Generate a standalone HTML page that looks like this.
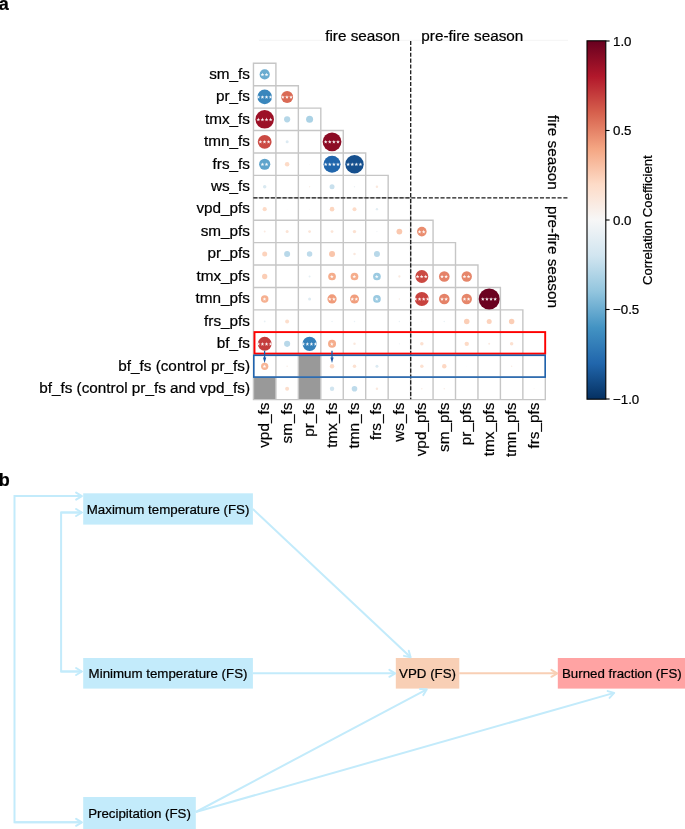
<!DOCTYPE html><html><head><meta charset="utf-8"><style>html,body{margin:0;padding:0;background:#fff;width:685px;height:829px;overflow:hidden}svg{display:block;will-change:transform}text{font-family:"Liberation Sans",sans-serif;stroke:#000;stroke-width:0.22px}</style></head><body>
<svg width="685" height="829" viewBox="0 0 685 829">
<rect width="685" height="829" fill="#fff"/>
<text x="-1.2" y="9.6" font-size="18" font-weight="bold" fill="#000">a</text>
<text x="-1.2" y="486.3" font-size="18" font-weight="bold" fill="#000">b</text>
<line x1="259" y1="40.3" x2="568" y2="40.3" stroke="#f4f4f4" stroke-width="1"/>
<text x="400" y="40.9" font-size="15.3" text-anchor="end">fire season</text>
<text x="421.3" y="40.9" font-size="15.3">pre-fire season</text>
<rect x="298.36" y="354.75" width="22.45" height="22.42" fill="#999999"/>
<rect x="253.46" y="377.17" width="22.45" height="22.42" fill="#999999"/>
<rect x="298.36" y="377.17" width="22.45" height="22.42" fill="#999999"/>
<path d="M253.46 63.29h22.45v22.42h-22.45zM253.46 85.71h22.45v22.42h-22.45zM275.91 85.71h22.45v22.42h-22.45zM253.46 108.13h22.45v22.42h-22.45zM275.91 108.13h22.45v22.42h-22.45zM298.36 108.13h22.45v22.42h-22.45zM253.46 130.55h22.45v22.42h-22.45zM275.91 130.55h22.45v22.42h-22.45zM298.36 130.55h22.45v22.42h-22.45zM320.81 130.55h22.45v22.42h-22.45zM253.46 152.97h22.45v22.42h-22.45zM275.91 152.97h22.45v22.42h-22.45zM298.36 152.97h22.45v22.42h-22.45zM320.81 152.97h22.45v22.42h-22.45zM343.26 152.97h22.45v22.42h-22.45zM253.46 175.39h22.45v22.42h-22.45zM275.91 175.39h22.45v22.42h-22.45zM298.36 175.39h22.45v22.42h-22.45zM320.81 175.39h22.45v22.42h-22.45zM343.26 175.39h22.45v22.42h-22.45zM365.71 175.39h22.45v22.42h-22.45zM253.46 197.81h22.45v22.42h-22.45zM275.91 197.81h22.45v22.42h-22.45zM298.36 197.81h22.45v22.42h-22.45zM320.81 197.81h22.45v22.42h-22.45zM343.26 197.81h22.45v22.42h-22.45zM365.71 197.81h22.45v22.42h-22.45zM388.16 197.81h22.45v22.42h-22.45zM253.46 220.23h22.45v22.42h-22.45zM275.91 220.23h22.45v22.42h-22.45zM298.36 220.23h22.45v22.42h-22.45zM320.81 220.23h22.45v22.42h-22.45zM343.26 220.23h22.45v22.42h-22.45zM365.71 220.23h22.45v22.42h-22.45zM388.16 220.23h22.45v22.42h-22.45zM410.61 220.23h22.45v22.42h-22.45zM253.46 242.65h22.45v22.42h-22.45zM275.91 242.65h22.45v22.42h-22.45zM298.36 242.65h22.45v22.42h-22.45zM320.81 242.65h22.45v22.42h-22.45zM343.26 242.65h22.45v22.42h-22.45zM365.71 242.65h22.45v22.42h-22.45zM388.16 242.65h22.45v22.42h-22.45zM410.61 242.65h22.45v22.42h-22.45zM433.06 242.65h22.45v22.42h-22.45zM253.46 265.07h22.45v22.42h-22.45zM275.91 265.07h22.45v22.42h-22.45zM298.36 265.07h22.45v22.42h-22.45zM320.81 265.07h22.45v22.42h-22.45zM343.26 265.07h22.45v22.42h-22.45zM365.71 265.07h22.45v22.42h-22.45zM388.16 265.07h22.45v22.42h-22.45zM410.61 265.07h22.45v22.42h-22.45zM433.06 265.07h22.45v22.42h-22.45zM455.51 265.07h22.45v22.42h-22.45zM253.46 287.49h22.45v22.42h-22.45zM275.91 287.49h22.45v22.42h-22.45zM298.36 287.49h22.45v22.42h-22.45zM320.81 287.49h22.45v22.42h-22.45zM343.26 287.49h22.45v22.42h-22.45zM365.71 287.49h22.45v22.42h-22.45zM388.16 287.49h22.45v22.42h-22.45zM410.61 287.49h22.45v22.42h-22.45zM433.06 287.49h22.45v22.42h-22.45zM455.51 287.49h22.45v22.42h-22.45zM477.96 287.49h22.45v22.42h-22.45zM253.46 309.91h22.45v22.42h-22.45zM275.91 309.91h22.45v22.42h-22.45zM298.36 309.91h22.45v22.42h-22.45zM320.81 309.91h22.45v22.42h-22.45zM343.26 309.91h22.45v22.42h-22.45zM365.71 309.91h22.45v22.42h-22.45zM388.16 309.91h22.45v22.42h-22.45zM410.61 309.91h22.45v22.42h-22.45zM433.06 309.91h22.45v22.42h-22.45zM455.51 309.91h22.45v22.42h-22.45zM477.96 309.91h22.45v22.42h-22.45zM500.41 309.91h22.45v22.42h-22.45zM253.46 332.33h22.45v22.42h-22.45zM275.91 332.33h22.45v22.42h-22.45zM298.36 332.33h22.45v22.42h-22.45zM320.81 332.33h22.45v22.42h-22.45zM343.26 332.33h22.45v22.42h-22.45zM365.71 332.33h22.45v22.42h-22.45zM388.16 332.33h22.45v22.42h-22.45zM410.61 332.33h22.45v22.42h-22.45zM433.06 332.33h22.45v22.42h-22.45zM455.51 332.33h22.45v22.42h-22.45zM477.96 332.33h22.45v22.42h-22.45zM500.41 332.33h22.45v22.42h-22.45zM522.86 332.33h22.45v22.42h-22.45zM253.46 354.75h22.45v22.42h-22.45zM275.91 354.75h22.45v22.42h-22.45zM298.36 354.75h22.45v22.42h-22.45zM320.81 354.75h22.45v22.42h-22.45zM343.26 354.75h22.45v22.42h-22.45zM365.71 354.75h22.45v22.42h-22.45zM388.16 354.75h22.45v22.42h-22.45zM410.61 354.75h22.45v22.42h-22.45zM433.06 354.75h22.45v22.42h-22.45zM455.51 354.75h22.45v22.42h-22.45zM477.96 354.75h22.45v22.42h-22.45zM500.41 354.75h22.45v22.42h-22.45zM522.86 354.75h22.45v22.42h-22.45zM253.46 377.17h22.45v22.42h-22.45zM275.91 377.17h22.45v22.42h-22.45zM298.36 377.17h22.45v22.42h-22.45zM320.81 377.17h22.45v22.42h-22.45zM343.26 377.17h22.45v22.42h-22.45zM365.71 377.17h22.45v22.42h-22.45zM388.16 377.17h22.45v22.42h-22.45zM410.61 377.17h22.45v22.42h-22.45zM433.06 377.17h22.45v22.42h-22.45zM455.51 377.17h22.45v22.42h-22.45zM477.96 377.17h22.45v22.42h-22.45zM500.41 377.17h22.45v22.42h-22.45zM522.86 377.17h22.45v22.42h-22.45z" fill="none" stroke="#c6c6c6" stroke-width="1.4"/>
<circle cx="264.69" cy="74.47" r="5.1" fill="#6aacd0"/>
<circle cx="264.69" cy="96.91" r="7.3" fill="#3986bc"/>
<circle cx="287.13" cy="96.91" r="6" fill="#da6a55"/>
<circle cx="264.69" cy="119.37" r="9.25" fill="#9c1127"/>
<circle cx="287.13" cy="119.37" r="3.1" fill="#b5d7e8"/>
<circle cx="309.59" cy="119.37" r="3.5" fill="#abd2e5"/>
<circle cx="264.69" cy="141.81" r="6.9" fill="#cb4a43"/>
<circle cx="287.13" cy="141.81" r="1.5" fill="#dceaf2"/>
<circle cx="332.04" cy="141.81" r="9.4" fill="#8c0c25"/>
<circle cx="264.69" cy="164.26" r="5.6" fill="#5fa4cc"/>
<circle cx="287.13" cy="164.26" r="2.25" fill="#fddbc7"/>
<circle cx="309.59" cy="164.26" r="0.4" fill="#f8f4f2"/>
<circle cx="332.04" cy="164.26" r="8.5" fill="#2166ac"/>
<circle cx="354.49" cy="164.26" r="9.2" fill="#16508e"/>
<circle cx="264.69" cy="186.72" r="1.75" fill="#d9e9f1"/>
<circle cx="309.59" cy="186.72" r="0.7" fill="#f9efe9"/>
<circle cx="332.04" cy="186.72" r="2.5" fill="#c8e0ed"/>
<circle cx="354.49" cy="186.72" r="0.7" fill="#ecf2f5"/>
<circle cx="376.94" cy="186.72" r="1.25" fill="#fae8dd"/>
<circle cx="264.69" cy="209.16" r="2.1" fill="#fddbc7"/>
<circle cx="287.13" cy="209.16" r="0.4" fill="#f8f3f0"/>
<circle cx="309.59" cy="209.16" r="0.4" fill="#f8f3f0"/>
<circle cx="332.04" cy="209.16" r="2.3" fill="#fcd6c0"/>
<circle cx="354.49" cy="209.16" r="2" fill="#fddcc9"/>
<circle cx="376.94" cy="209.16" r="1.2" fill="#e2edf3"/>
<circle cx="264.69" cy="231.62" r="1" fill="#faeae1"/>
<circle cx="287.13" cy="231.62" r="1.5" fill="#fbe3d5"/>
<circle cx="309.59" cy="231.62" r="1.4" fill="#fbe5d8"/>
<circle cx="332.04" cy="231.62" r="1.4" fill="#fbe5d8"/>
<circle cx="354.49" cy="231.62" r="1.7" fill="#fce1d1"/>
<circle cx="376.94" cy="231.62" r="0.6" fill="#eef2f5"/>
<circle cx="399.38" cy="231.62" r="2.9" fill="#fac8af"/>
<circle cx="421.84" cy="231.62" r="4.8" fill="#ea8d6f"/>
<circle cx="264.69" cy="254.06" r="2.5" fill="#fcd3bd"/>
<circle cx="287.13" cy="254.06" r="3" fill="#b8d8e9"/>
<circle cx="309.59" cy="254.06" r="2.75" fill="#bedbeb"/>
<circle cx="332.04" cy="254.06" r="3" fill="#f9c5ab"/>
<circle cx="354.49" cy="254.06" r="1.25" fill="#fae8dd"/>
<circle cx="376.94" cy="254.06" r="3" fill="#b8d8e9"/>
<circle cx="264.69" cy="276.51" r="2.65" fill="#fbceb6"/>
<circle cx="309.59" cy="276.51" r="1" fill="#e6eff4"/>
<circle cx="332.04" cy="276.51" r="3.85" fill="#f5ad8c"/>
<circle cx="354.49" cy="276.51" r="3.85" fill="#f5ad8c"/>
<circle cx="376.94" cy="276.51" r="3.85" fill="#9bcae1"/>
<circle cx="399.38" cy="276.51" r="1.15" fill="#fae9df"/>
<circle cx="421.84" cy="276.51" r="6.45" fill="#cb4a43"/>
<circle cx="444.28" cy="276.51" r="5.3" fill="#e58268"/>
<circle cx="466.74" cy="276.51" r="5.2" fill="#e6866a"/>
<circle cx="264.69" cy="298.96" r="3.75" fill="#f6b090"/>
<circle cx="309.59" cy="298.96" r="1.5" fill="#deebf2"/>
<circle cx="332.04" cy="298.96" r="4.6" fill="#f09b7a"/>
<circle cx="354.49" cy="298.96" r="4.5" fill="#f19e7d"/>
<circle cx="376.94" cy="298.96" r="3.85" fill="#9bcae1"/>
<circle cx="399.38" cy="298.96" r="0.75" fill="#f9ede6"/>
<circle cx="421.84" cy="298.96" r="7" fill="#c8433f"/>
<circle cx="444.28" cy="298.96" r="5.3" fill="#e58268"/>
<circle cx="466.74" cy="298.96" r="5.2" fill="#e6866a"/>
<circle cx="489.19" cy="298.96" r="10.5" fill="#6b0120"/>
<circle cx="264.69" cy="321.42" r="0.9" fill="#e8f0f4"/>
<circle cx="287.13" cy="321.42" r="2" fill="#fcdecc"/>
<circle cx="309.59" cy="321.42" r="0.4" fill="#f8f3f0"/>
<circle cx="332.04" cy="321.42" r="0.75" fill="#eaf1f5"/>
<circle cx="354.49" cy="321.42" r="0.75" fill="#eaf1f5"/>
<circle cx="399.38" cy="321.42" r="0.75" fill="#eaf1f5"/>
<circle cx="421.84" cy="321.42" r="0.4" fill="#f8f3f0"/>
<circle cx="444.28" cy="321.42" r="0.75" fill="#eaf1f5"/>
<circle cx="466.74" cy="321.42" r="2.75" fill="#fbceb6"/>
<circle cx="489.19" cy="321.42" r="2.5" fill="#fcd3bd"/>
<circle cx="511.63" cy="321.42" r="2.75" fill="#fbceb6"/>
<circle cx="264.69" cy="343.87" r="7" fill="#c43c3c"/>
<circle cx="287.13" cy="343.87" r="3.05" fill="#b8d8e9"/>
<circle cx="309.59" cy="343.87" r="7.1" fill="#3581ba"/>
<circle cx="332.04" cy="343.87" r="4" fill="#f5ad8c"/>
<circle cx="354.49" cy="343.87" r="1.25" fill="#fae8dd"/>
<circle cx="376.94" cy="343.87" r="0.4" fill="#f8f3f0"/>
<circle cx="399.38" cy="343.87" r="0.6" fill="#eef2f5"/>
<circle cx="421.84" cy="343.87" r="1.75" fill="#fce1d1"/>
<circle cx="466.74" cy="343.87" r="2.2" fill="#fddbc7"/>
<circle cx="489.19" cy="343.87" r="1" fill="#faeae1"/>
<circle cx="511.63" cy="343.87" r="1.75" fill="#fce1d1"/>
<circle cx="264.69" cy="366.31" r="3.65" fill="#f7b597"/>
<circle cx="287.13" cy="366.31" r="0.75" fill="#f9ede6"/>
<circle cx="332.04" cy="366.31" r="2.2" fill="#fddbc7"/>
<circle cx="354.49" cy="366.31" r="1.75" fill="#fce1d1"/>
<circle cx="376.94" cy="366.31" r="1.5" fill="#dceaf2"/>
<circle cx="421.84" cy="366.31" r="1.75" fill="#fce1d1"/>
<circle cx="444.28" cy="366.31" r="2.25" fill="#fdd8c4"/>
<circle cx="466.74" cy="366.31" r="0.3" fill="#f8f4f2"/>
<circle cx="511.63" cy="366.31" r="0.75" fill="#f9ede6"/>
<circle cx="287.13" cy="388.76" r="2" fill="#fcdecc"/>
<circle cx="332.04" cy="388.76" r="2.2" fill="#d1e5f0"/>
<circle cx="354.49" cy="388.76" r="2.8" fill="#bedbeb"/>
<circle cx="376.94" cy="388.76" r="1.25" fill="#fae8dd"/>
<circle cx="421.84" cy="388.76" r="0.75" fill="#f9ede6"/>
<circle cx="444.28" cy="388.76" r="0.75" fill="#f9ede6"/>
<circle cx="534.09" cy="388.76" r="0.5" fill="#f8f1ed"/>
<g fill="#fff" fill-opacity="0.92"><polygon points="262.44,72.72 262.93,73.98 264.29,74.06 263.24,74.93 263.58,76.24 262.44,75.52 261.29,76.24 261.63,74.93 260.58,74.06 261.94,73.98"/><polygon points="266.54,72.72 267.03,73.98 268.39,74.06 267.34,74.93 267.68,76.24 266.54,75.52 265.39,76.24 265.73,74.93 264.68,74.06 266.04,73.98"/><polygon points="258.34,95.16 258.83,96.43 260.19,96.51 259.14,97.38 259.48,98.69 258.34,97.96 257.19,98.69 257.53,97.38 256.48,96.51 257.84,96.43"/><polygon points="262.44,95.16 262.93,96.43 264.29,96.51 263.24,97.38 263.58,98.69 262.44,97.96 261.29,98.69 261.63,97.38 260.58,96.51 261.94,96.43"/><polygon points="266.54,95.16 267.03,96.43 268.39,96.51 267.34,97.38 267.68,98.69 266.54,97.96 265.39,98.69 265.73,97.38 264.68,96.51 266.04,96.43"/><polygon points="270.63,95.16 271.13,96.43 272.49,96.51 271.44,97.38 271.78,98.69 270.63,97.96 269.49,98.69 269.83,97.38 268.78,96.51 270.14,96.43"/><polygon points="282.83,95.16 283.33,96.43 284.69,96.51 283.64,97.38 283.98,98.69 282.83,97.96 281.69,98.69 282.03,97.38 280.98,96.51 282.34,96.43"/><polygon points="286.94,95.16 287.43,96.43 288.79,96.51 287.74,97.38 288.08,98.69 286.94,97.96 285.79,98.69 286.13,97.38 285.08,96.51 286.44,96.43"/><polygon points="291.04,95.16 291.53,96.43 292.89,96.51 291.84,97.38 292.18,98.69 291.04,97.96 289.89,98.69 290.23,97.38 289.18,96.51 290.54,96.43"/><polygon points="258.34,117.62 258.83,118.88 260.19,118.96 259.14,119.83 259.48,121.14 258.34,120.42 257.19,121.14 257.53,119.83 256.48,118.96 257.84,118.88"/><polygon points="262.44,117.62 262.93,118.88 264.29,118.96 263.24,119.83 263.58,121.14 262.44,120.42 261.29,121.14 261.63,119.83 260.58,118.96 261.94,118.88"/><polygon points="266.54,117.62 267.03,118.88 268.39,118.96 267.34,119.83 267.68,121.14 266.54,120.42 265.39,121.14 265.73,119.83 264.68,118.96 266.04,118.88"/><polygon points="270.63,117.62 271.13,118.88 272.49,118.96 271.44,119.83 271.78,121.14 270.63,120.42 269.49,121.14 269.83,119.83 268.78,118.96 270.14,118.88"/><polygon points="260.38,140.06 260.88,141.33 262.24,141.41 261.19,142.28 261.53,143.59 260.38,142.86 259.24,143.59 259.58,142.28 258.53,141.41 259.89,141.33"/><polygon points="264.49,140.06 264.98,141.33 266.34,141.41 265.29,142.28 265.63,143.59 264.49,142.86 263.34,143.59 263.68,142.28 262.63,141.41 263.99,141.33"/><polygon points="268.59,140.06 269.08,141.33 270.44,141.41 269.39,142.28 269.73,143.59 268.59,142.86 267.44,143.59 267.78,142.28 266.73,141.41 268.09,141.33"/><polygon points="325.69,140.06 326.18,141.33 327.54,141.41 326.49,142.28 326.83,143.59 325.69,142.86 324.54,143.59 324.88,142.28 323.83,141.41 325.19,141.33"/><polygon points="329.79,140.06 330.28,141.33 331.64,141.41 330.59,142.28 330.93,143.59 329.79,142.86 328.64,143.59 328.98,142.28 327.93,141.41 329.29,141.33"/><polygon points="333.89,140.06 334.38,141.33 335.74,141.41 334.69,142.28 335.03,143.59 333.89,142.86 332.74,143.59 333.08,142.28 332.03,141.41 333.39,141.33"/><polygon points="337.99,140.06 338.48,141.33 339.84,141.41 338.79,142.28 339.13,143.59 337.99,142.86 336.84,143.59 337.18,142.28 336.13,141.41 337.49,141.33"/><polygon points="262.44,162.51 262.93,163.78 264.29,163.86 263.24,164.73 263.58,166.04 262.44,165.31 261.29,166.04 261.63,164.73 260.58,163.86 261.94,163.78"/><polygon points="266.54,162.51 267.03,163.78 268.39,163.86 267.34,164.73 267.68,166.04 266.54,165.31 265.39,166.04 265.73,164.73 264.68,163.86 266.04,163.78"/><polygon points="325.69,162.51 326.18,163.78 327.54,163.86 326.49,164.73 326.83,166.04 325.69,165.31 324.54,166.04 324.88,164.73 323.83,163.86 325.19,163.78"/><polygon points="329.79,162.51 330.28,163.78 331.64,163.86 330.59,164.73 330.93,166.04 329.79,165.31 328.64,166.04 328.98,164.73 327.93,163.86 329.29,163.78"/><polygon points="333.89,162.51 334.38,163.78 335.74,163.86 334.69,164.73 335.03,166.04 333.89,165.31 332.74,166.04 333.08,164.73 332.03,163.86 333.39,163.78"/><polygon points="337.99,162.51 338.48,163.78 339.84,163.86 338.79,164.73 339.13,166.04 337.99,165.31 336.84,166.04 337.18,164.73 336.13,163.86 337.49,163.78"/><polygon points="348.14,162.51 348.63,163.78 349.99,163.86 348.94,164.73 349.28,166.04 348.14,165.31 346.99,166.04 347.33,164.73 346.28,163.86 347.64,163.78"/><polygon points="352.24,162.51 352.73,163.78 354.09,163.86 353.04,164.73 353.38,166.04 352.24,165.31 351.09,166.04 351.43,164.73 350.38,163.86 351.74,163.78"/><polygon points="356.34,162.51 356.83,163.78 358.19,163.86 357.14,164.73 357.48,166.04 356.34,165.31 355.19,166.04 355.53,164.73 354.48,163.86 355.84,163.78"/><polygon points="360.44,162.51 360.93,163.78 362.29,163.86 361.24,164.73 361.58,166.04 360.44,165.31 359.29,166.04 359.63,164.73 358.58,163.86 359.94,163.78"/><polygon points="419.59,229.87 420.08,231.13 421.44,231.21 420.39,232.08 420.73,233.39 419.59,232.66 418.44,233.39 418.78,232.08 417.73,231.21 419.09,231.13"/><polygon points="423.69,229.87 424.18,231.13 425.54,231.21 424.49,232.08 424.83,233.39 423.69,232.66 422.54,233.39 422.88,232.08 421.83,231.21 423.19,231.13"/><polygon points="331.84,274.76 332.33,276.03 333.69,276.11 332.64,276.98 332.98,278.29 331.84,277.56 330.69,278.29 331.03,276.98 329.98,276.11 331.34,276.03"/><polygon points="354.29,274.76 354.78,276.03 356.14,276.11 355.09,276.98 355.43,278.29 354.29,277.56 353.14,278.29 353.48,276.98 352.43,276.11 353.79,276.03"/><polygon points="376.74,274.76 377.23,276.03 378.59,276.11 377.54,276.98 377.88,278.29 376.74,277.56 375.59,278.29 375.93,276.98 374.88,276.11 376.24,276.03"/><polygon points="417.54,274.76 418.03,276.03 419.39,276.11 418.34,276.98 418.68,278.29 417.54,277.56 416.39,278.29 416.73,276.98 415.68,276.11 417.04,276.03"/><polygon points="421.64,274.76 422.13,276.03 423.49,276.11 422.44,276.98 422.78,278.29 421.64,277.56 420.49,278.29 420.83,276.98 419.78,276.11 421.14,276.03"/><polygon points="425.74,274.76 426.23,276.03 427.59,276.11 426.54,276.98 426.88,278.29 425.74,277.56 424.59,278.29 424.93,276.98 423.88,276.11 425.24,276.03"/><polygon points="442.03,274.76 442.53,276.03 443.89,276.11 442.84,276.98 443.18,278.29 442.03,277.56 440.89,278.29 441.23,276.98 440.18,276.11 441.54,276.03"/><polygon points="446.13,274.76 446.63,276.03 447.99,276.11 446.94,276.98 447.28,278.29 446.13,277.56 444.99,278.29 445.33,276.98 444.28,276.11 445.64,276.03"/><polygon points="464.49,274.76 464.98,276.03 466.34,276.11 465.29,276.98 465.63,278.29 464.49,277.56 463.34,278.29 463.68,276.98 462.63,276.11 463.99,276.03"/><polygon points="468.59,274.76 469.08,276.03 470.44,276.11 469.39,276.98 469.73,278.29 468.59,277.56 467.44,278.29 467.78,276.98 466.73,276.11 468.09,276.03"/><polygon points="264.49,297.21 264.98,298.48 266.34,298.56 265.29,299.43 265.63,300.74 264.49,300.01 263.34,300.74 263.68,299.43 262.63,298.56 263.99,298.48"/><polygon points="329.79,297.21 330.28,298.48 331.64,298.56 330.59,299.43 330.93,300.74 329.79,300.01 328.64,300.74 328.98,299.43 327.93,298.56 329.29,298.48"/><polygon points="333.89,297.21 334.38,298.48 335.74,298.56 334.69,299.43 335.03,300.74 333.89,300.01 332.74,300.74 333.08,299.43 332.03,298.56 333.39,298.48"/><polygon points="352.24,297.21 352.73,298.48 354.09,298.56 353.04,299.43 353.38,300.74 352.24,300.01 351.09,300.74 351.43,299.43 350.38,298.56 351.74,298.48"/><polygon points="356.34,297.21 356.83,298.48 358.19,298.56 357.14,299.43 357.48,300.74 356.34,300.01 355.19,300.74 355.53,299.43 354.48,298.56 355.84,298.48"/><polygon points="376.74,297.21 377.23,298.48 378.59,298.56 377.54,299.43 377.88,300.74 376.74,300.01 375.59,300.74 375.93,299.43 374.88,298.56 376.24,298.48"/><polygon points="415.49,297.21 415.98,298.48 417.34,298.56 416.29,299.43 416.63,300.74 415.49,300.01 414.34,300.74 414.68,299.43 413.63,298.56 414.99,298.48"/><polygon points="419.59,297.21 420.08,298.48 421.44,298.56 420.39,299.43 420.73,300.74 419.59,300.01 418.44,300.74 418.78,299.43 417.73,298.56 419.09,298.48"/><polygon points="423.69,297.21 424.18,298.48 425.54,298.56 424.49,299.43 424.83,300.74 423.69,300.01 422.54,300.74 422.88,299.43 421.83,298.56 423.19,298.48"/><polygon points="427.79,297.21 428.28,298.48 429.64,298.56 428.59,299.43 428.93,300.74 427.79,300.01 426.64,300.74 426.98,299.43 425.93,298.56 427.29,298.48"/><polygon points="442.03,297.21 442.53,298.48 443.89,298.56 442.84,299.43 443.18,300.74 442.03,300.01 440.89,300.74 441.23,299.43 440.18,298.56 441.54,298.48"/><polygon points="446.13,297.21 446.63,298.48 447.99,298.56 446.94,299.43 447.28,300.74 446.13,300.01 444.99,300.74 445.33,299.43 444.28,298.56 445.64,298.48"/><polygon points="464.49,297.21 464.98,298.48 466.34,298.56 465.29,299.43 465.63,300.74 464.49,300.01 463.34,300.74 463.68,299.43 462.63,298.56 463.99,298.48"/><polygon points="468.59,297.21 469.08,298.48 470.44,298.56 469.39,299.43 469.73,300.74 468.59,300.01 467.44,300.74 467.78,299.43 466.73,298.56 468.09,298.48"/><polygon points="482.84,297.21 483.33,298.48 484.69,298.56 483.64,299.43 483.98,300.74 482.84,300.01 481.69,300.74 482.03,299.43 480.98,298.56 482.34,298.48"/><polygon points="486.94,297.21 487.43,298.48 488.79,298.56 487.74,299.43 488.08,300.74 486.94,300.01 485.79,300.74 486.13,299.43 485.08,298.56 486.44,298.48"/><polygon points="491.04,297.21 491.53,298.48 492.89,298.56 491.84,299.43 492.18,300.74 491.04,300.01 489.89,300.74 490.23,299.43 489.18,298.56 490.54,298.48"/><polygon points="495.13,297.21 495.63,298.48 496.99,298.56 495.94,299.43 496.28,300.74 495.13,300.01 493.99,300.74 494.33,299.43 493.28,298.56 494.64,298.48"/><polygon points="258.34,342.12 258.83,343.38 260.19,343.46 259.14,344.33 259.48,345.64 258.34,344.92 257.19,345.64 257.53,344.33 256.48,343.46 257.84,343.38"/><polygon points="262.44,342.12 262.93,343.38 264.29,343.46 263.24,344.33 263.58,345.64 262.44,344.92 261.29,345.64 261.63,344.33 260.58,343.46 261.94,343.38"/><polygon points="266.54,342.12 267.03,343.38 268.39,343.46 267.34,344.33 267.68,345.64 266.54,344.92 265.39,345.64 265.73,344.33 264.68,343.46 266.04,343.38"/><polygon points="270.63,342.12 271.13,343.38 272.49,343.46 271.44,344.33 271.78,345.64 270.63,344.92 269.49,345.64 269.83,344.33 268.78,343.46 270.14,343.38"/><polygon points="303.24,342.12 303.73,343.38 305.09,343.46 304.04,344.33 304.38,345.64 303.24,344.92 302.09,345.64 302.43,344.33 301.38,343.46 302.74,343.38"/><polygon points="307.34,342.12 307.83,343.38 309.19,343.46 308.14,344.33 308.48,345.64 307.34,344.92 306.19,345.64 306.53,344.33 305.48,343.46 306.84,343.38"/><polygon points="311.44,342.12 311.93,343.38 313.29,343.46 312.24,344.33 312.58,345.64 311.44,344.92 310.29,345.64 310.63,344.33 309.58,343.46 310.94,343.38"/><polygon points="315.54,342.12 316.03,343.38 317.39,343.46 316.34,344.33 316.68,345.64 315.54,344.92 314.39,345.64 314.73,344.33 313.68,343.46 315.04,343.38"/><polygon points="331.84,342.12 332.33,343.38 333.69,343.46 332.64,344.33 332.98,345.64 331.84,344.92 330.69,345.64 331.03,344.33 329.98,343.46 331.34,343.38"/><polygon points="264.49,364.56 264.98,365.83 266.34,365.91 265.29,366.78 265.63,368.09 264.49,367.37 263.34,368.09 263.68,366.78 262.63,365.91 263.99,365.83"/></g>
<line x1="410.7" y1="41" x2="410.7" y2="399.3" stroke="#1a1a1a" stroke-width="1.3" stroke-dasharray="4.1 1.75"/>
<line x1="253.3" y1="197.8" x2="568" y2="197.8" stroke="#1a1a1a" stroke-width="1.3" stroke-dasharray="4.1 1.75"/>
<rect x="254.5" y="332.1" width="290.7" height="21.5" fill="none" stroke="#ff0000" stroke-width="1.9"/>
<rect x="253.8" y="355.3" width="291.4" height="21.8" fill="none" stroke="#2063ad" stroke-width="1.6"/>
<line x1="264.6" y1="350.8" x2="264.6" y2="358.5" stroke="#1f5ca8" stroke-width="1.3"/>
<polygon points="262.95,357.6 266.25,357.6 264.6,363" fill="#1f5ca8"/>
<line x1="332" y1="350.8" x2="332" y2="358.5" stroke="#1f5ca8" stroke-width="1.3"/>
<polygon points="330.35,357.6 333.65,357.6 332,363" fill="#1f5ca8"/>
<text x="250" y="78.77" font-size="15.3" text-anchor="end">sm_fs</text>
<text x="250" y="101.21" font-size="15.3" text-anchor="end">pr_fs</text>
<text x="250" y="123.67" font-size="15.3" text-anchor="end">tmx_fs</text>
<text x="250" y="146.12" font-size="15.3" text-anchor="end">tmn_fs</text>
<text x="250" y="168.56" font-size="15.3" text-anchor="end">frs_fs</text>
<text x="250" y="191.02" font-size="15.3" text-anchor="end">ws_fs</text>
<text x="250" y="213.47" font-size="15.3" text-anchor="end">vpd_pfs</text>
<text x="250" y="235.92" font-size="15.3" text-anchor="end">sm_pfs</text>
<text x="250" y="258.37" font-size="15.3" text-anchor="end">pr_pfs</text>
<text x="250" y="280.81" font-size="15.3" text-anchor="end">tmx_pfs</text>
<text x="250" y="303.26" font-size="15.3" text-anchor="end">tmn_pfs</text>
<text x="250" y="325.72" font-size="15.3" text-anchor="end">frs_pfs</text>
<text x="250" y="348.17" font-size="15.3" text-anchor="end">bf_fs</text>
<text x="250" y="370.62" font-size="15.3" text-anchor="end">bf_fs (control pr_fs)</text>
<text x="250" y="393.06" font-size="15.3" text-anchor="end">bf_fs (control pr_fs and vpd_fs)</text>
<text transform="translate(269.24 402.7) rotate(-90)" font-size="15.3" text-anchor="end">vpd_fs</text>
<text transform="translate(291.69 402.7) rotate(-90)" font-size="15.3" text-anchor="end">sm_fs</text>
<text transform="translate(314.14 402.7) rotate(-90)" font-size="15.3" text-anchor="end">pr_fs</text>
<text transform="translate(336.59 402.7) rotate(-90)" font-size="15.3" text-anchor="end">tmx_fs</text>
<text transform="translate(359.04 402.7) rotate(-90)" font-size="15.3" text-anchor="end">tmn_fs</text>
<text transform="translate(381.49 402.7) rotate(-90)" font-size="15.3" text-anchor="end">frs_fs</text>
<text transform="translate(403.94 402.7) rotate(-90)" font-size="15.3" text-anchor="end">ws_fs</text>
<text transform="translate(426.39 402.7) rotate(-90)" font-size="15.3" text-anchor="end">vpd_pfs</text>
<text transform="translate(448.83 402.7) rotate(-90)" font-size="15.3" text-anchor="end">sm_pfs</text>
<text transform="translate(471.29 402.7) rotate(-90)" font-size="15.3" text-anchor="end">pr_pfs</text>
<text transform="translate(493.74 402.7) rotate(-90)" font-size="15.3" text-anchor="end">tmx_pfs</text>
<text transform="translate(516.18 402.7) rotate(-90)" font-size="15.3" text-anchor="end">tmn_pfs</text>
<text transform="translate(538.63 402.7) rotate(-90)" font-size="15.3" text-anchor="end">frs_pfs</text>
<text transform="translate(547.8 115) rotate(90)" font-size="15.3">fire season</text>
<text transform="translate(547.8 206) rotate(90)" font-size="15.3">pre-fire season</text>
<defs><linearGradient id="cb" x1="0" y1="0" x2="0" y2="1"><stop offset="0" stop-color="#67001F"/><stop offset="0.1" stop-color="#B2182B"/><stop offset="0.2" stop-color="#D6604D"/><stop offset="0.3" stop-color="#F4A582"/><stop offset="0.4" stop-color="#FDDBC7"/><stop offset="0.5" stop-color="#F7F7F7"/><stop offset="0.6" stop-color="#D1E5F0"/><stop offset="0.7" stop-color="#92C5DE"/><stop offset="0.8" stop-color="#4393C3"/><stop offset="0.9" stop-color="#2166AC"/><stop offset="1" stop-color="#053061"/></linearGradient></defs>
<rect x="587" y="40.8" width="18.8" height="358.4" fill="url(#cb)" stroke="#000" stroke-width="1.1"/>
<line x1="605.8" y1="41" x2="609.6" y2="41" stroke="#000" stroke-width="1.1"/>
<text x="613" y="45.7" font-size="13.3">1.0</text>
<line x1="605.8" y1="130.5" x2="609.6" y2="130.5" stroke="#000" stroke-width="1.1"/>
<text x="613" y="135.2" font-size="13.3">0.5</text>
<line x1="605.8" y1="220" x2="609.6" y2="220" stroke="#000" stroke-width="1.1"/>
<text x="613" y="224.7" font-size="13.3">0.0</text>
<line x1="605.8" y1="309.5" x2="609.6" y2="309.5" stroke="#000" stroke-width="1.1"/>
<text x="613" y="314.2" font-size="13.3">−0.5</text>
<line x1="605.8" y1="399" x2="609.6" y2="399" stroke="#000" stroke-width="1.1"/>
<text x="613" y="403.7" font-size="13.3">−1.0</text>
<text transform="translate(652.4 220.2) rotate(-90)" font-size="13.15" text-anchor="middle">Correlation Coefficient</text>
<rect x="83.2" y="493.3" width="169.7" height="31.3" fill="#c3ebfb"/>
<text x="168.05" y="513.6" font-size="13.3" text-anchor="middle">Maximum temperature (FS)</text>
<rect x="83.2" y="658" width="169.7" height="30.6" fill="#c3ebfb"/>
<text x="168.05" y="677.95" font-size="13.3" text-anchor="middle">Minimum temperature (FS)</text>
<rect x="83.2" y="797" width="112.6" height="32.5" fill="#c3ebfb"/>
<text x="139.5" y="817.9" font-size="13.3" text-anchor="middle">Precipitation (FS)</text>
<rect x="395.8" y="658" width="63.5" height="30.6" fill="#f8cfb5"/>
<text x="427.55" y="677.95" font-size="13.3" text-anchor="middle">VPD (FS)</text>
<rect x="557.8" y="658" width="128.1" height="30.6" fill="#ffa3a3"/>
<text x="621.85" y="677.95" font-size="13.3" text-anchor="middle">Burned fraction (FS)</text>
<path d="M81.5 496.1 H14.5 V822.3 H81.5" fill="none" stroke="#c3ebfb" stroke-width="2"/>
<path d="M14.5 496.1 L81.9 496.1" fill="none" stroke="#c3ebfb" stroke-width="2" stroke-linejoin="miter"/>
<path d="M76.1 499.6 L81.9 496.1 L76.1 492.6" fill="none" stroke="#c3ebfb" stroke-width="2" stroke-linecap="round" stroke-linejoin="round"/>
<path d="M14.5 822.3 L81.9 822.3" fill="none" stroke="#c3ebfb" stroke-width="2" stroke-linejoin="miter"/>
<path d="M76.1 825.8 L81.9 822.3 L76.1 818.8" fill="none" stroke="#c3ebfb" stroke-width="2" stroke-linecap="round" stroke-linejoin="round"/>
<path d="M81.5 512.5 H61.1 V671.5 H81.5" fill="none" stroke="#c3ebfb" stroke-width="2"/>
<path d="M61.1 512.5 L81.9 512.5" fill="none" stroke="#c3ebfb" stroke-width="2" stroke-linejoin="miter"/>
<path d="M76.1 516 L81.9 512.5 L76.1 509" fill="none" stroke="#c3ebfb" stroke-width="2" stroke-linecap="round" stroke-linejoin="round"/>
<path d="M61.1 671.5 L81.9 671.5" fill="none" stroke="#c3ebfb" stroke-width="2" stroke-linejoin="miter"/>
<path d="M76.1 675 L81.9 671.5 L76.1 668" fill="none" stroke="#c3ebfb" stroke-width="2" stroke-linecap="round" stroke-linejoin="round"/>
<path d="M252.9 509 L410.6 657.3" fill="none" stroke="#c3ebfb" stroke-width="2" stroke-linejoin="miter"/>
<path d="M403.98 655.88 L410.6 657.3 L408.77 650.78" fill="none" stroke="#c3ebfb" stroke-width="2" stroke-linecap="round" stroke-linejoin="round"/>
<path d="M252.9 673.3 L395.2 673.3" fill="none" stroke="#c3ebfb" stroke-width="2" stroke-linejoin="miter"/>
<path d="M389.4 676.8 L395.2 673.3 L389.4 669.8" fill="none" stroke="#c3ebfb" stroke-width="2" stroke-linecap="round" stroke-linejoin="round"/>
<path d="M195.8 812 L426.8 689.3" fill="none" stroke="#c3ebfb" stroke-width="2" stroke-linejoin="miter"/>
<path d="M423.32 695.11 L426.8 689.3 L420.04 688.93" fill="none" stroke="#c3ebfb" stroke-width="2" stroke-linecap="round" stroke-linejoin="round"/>
<path d="M195.8 812 L614.2 692.9" fill="none" stroke="#c3ebfb" stroke-width="2" stroke-linejoin="miter"/>
<path d="M609.58 697.85 L614.2 692.9 L607.66 691.12" fill="none" stroke="#c3ebfb" stroke-width="2" stroke-linecap="round" stroke-linejoin="round"/>
<path d="M459.3 673.3 L557.2 673.3" fill="none" stroke="#f8cfb5" stroke-width="2" stroke-linejoin="miter"/>
<path d="M551.4 676.8 L557.2 673.3 L551.4 669.8" fill="none" stroke="#f8cfb5" stroke-width="2" stroke-linecap="round" stroke-linejoin="round"/>
</svg></body></html>
